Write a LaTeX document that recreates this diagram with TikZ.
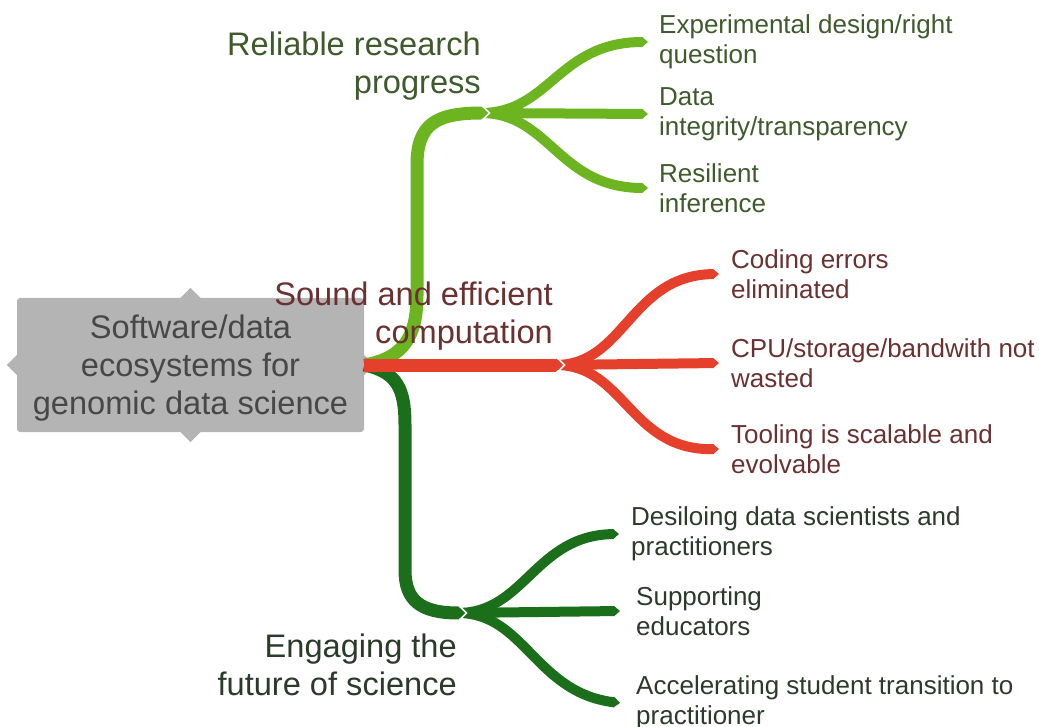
\documentclass[tikz,border=0pt]{standalone}
\usepackage{fontspec}
\setmainfont{Liberation Sans}
\usetikzlibrary{arrows.meta}
\definecolor{lgreen}{HTML}{6CB521}
\definecolor{rred}{HTML}{E5402C}
\definecolor{dgreen}{HTML}{1B6F1B}
\definecolor{boxgray}{HTML}{B4B4B4}
\definecolor{lgtext}{HTML}{3F5A2C}
\definecolor{rtext}{HTML}{6B3030}
\definecolor{dgtext}{HTML}{2C3A2C}

\begin{document}
\begin{tikzpicture}[x=1pt,y=-1pt,
	rootbox/.style={fill=boxgray,rounded corners=3pt,minimum width=347pt,minimum height=134pt,align=center,text=black!72,font=\fontsize{32.6}{38}\selectfont,inner sep=0pt},
	mainlabel/.style={align=right,inner sep=0pt,font=\fontsize{32.6}{38}\selectfont},
	sublabel/.style={align=left,anchor=west,inner sep=0pt,font=\fontsize{26}{30}\selectfont},
	trunk/.style={line width=13pt,-{Triangle[length=7pt,width=0pt 1]}},
	twig/.style={line width=10pt,-{Triangle[length=6pt,width=0pt 1]}},
	gapline/.style={white,line width=1.6pt}]
	\useasboundingbox (0,0) rectangle (1039,727);
	\node[rootbox] (root) at (190.5,365) {\rule{0pt}{30pt}Software/data\\ecosystems for\\genomic data science};
	\fill[boxgray] (root.north) ++(-10,0) -- ++(10,-10) -- ++(10,10) -- cycle;
	\fill[boxgray] (root.south) ++(-10,0) -- ++(10,10) -- ++(10,-10) -- cycle;
	\fill[boxgray] (root.west) ++(0,-10) -- ++(-10,10) -- ++(10,10) -- cycle;
	\fill[boxgray] (root.east) ++(0,-10) -- ++(10,10) -- ++(-10,10) -- cycle;

	\coordinate (rj) at (488,113);
	\coordinate (rs) at (481,113);
	\coordinate (cj) at (563,365);
	\coordinate (cs) at (556,365);
	\coordinate (ej) at (465,613);
	\coordinate (es) at (458,613);

	\node[sublabel,text=lgtext] (design) at (659,42) {Experimental design/right\\question};
	\node[sublabel,text=lgtext] (integrity) at (659,114) {Data\\integrity/transparency};
	\node[sublabel,text=lgtext] (inference) at (659,188) {Resilient\\inference};
	\node[sublabel,text=rtext] (errors) at (731,274) {Coding errors\\eliminated};
	\node[sublabel,text=rtext] (waste) at (731,363) {CPU/storage/bandwith not\\wasted};
	\node[sublabel,text=rtext] (tooling) at (731,449) {Tooling is scalable and\\evolvable};
	\node[sublabel,text=dgtext] (desilo) at (631,534) {Desiloing data scientists and\\practitioners};
	\node[sublabel,text=dgtext] (educators) at (636,611) {Supporting\\educators};
	\node[sublabel,text=dgtext] (transition) at (636,703) {Accelerating student transition to\\practitioner};

	\draw[trunk,lgreen] (root.east) .. controls (405,358) and (417,335) .. (417,295) -- (417,165) .. controls (417,125) and (435,113) .. (rj);
	\draw[twig,lgreen] (rs) .. controls (550,113) and (558,42) .. ([xshift=-11pt]design.west);
	\draw[twig,lgreen] (rs) -- ([xshift=-11pt]integrity.west);
	\draw[twig,lgreen] (rs) .. controls (550,113) and (558,188) .. ([xshift=-11pt]inference.west);
	\draw[gapline] ([shift={(-5.5,-7)}]rj) -- ([shift={(1.5,0)}]rj) -- ([shift={(-5.5,7)}]rj);

	\draw[trunk,dgreen] (root.east) .. controls (398,372) and (405,390) .. (405,425) -- (405,570) .. controls (405,600) and (420,613) .. (ej);
	\draw[twig,dgreen] (es) .. controls (525,613) and (535,535) .. ([xshift=-12pt]desilo.west);
	\draw[twig,dgreen] (es) -- ([xshift=-16pt]educators.west);
	\draw[twig,dgreen] (es) .. controls (525,613) and (535,693) .. ([xshift=-16pt]transition.west);
	\draw[gapline] ([shift={(-5.5,-7)}]ej) -- ([shift={(1.5,0)}]ej) -- ([shift={(-5.5,7)}]ej);

	\draw[trunk,rred] (root.east) -- (cj);
	\draw[twig,rred] (cs) .. controls (625,365) and (630,275) .. ([xshift=-12pt]errors.west);
	\draw[twig,rred] (cs) -- ([xshift=-12pt]waste.west);
	\draw[twig,rred] (cs) .. controls (625,365) and (630,451) .. ([xshift=-12pt]tooling.west);
	\draw[gapline] ([shift={(-5.5,-7)}]cj) -- ([shift={(1.5,0)}]cj) -- ([shift={(-5.5,7)}]cj);

	\node[mainlabel,anchor=east,text=lgtext] (reliable) at (481,66) {Reliable research\\progress};
	\node[mainlabel,anchor=east,text=rtext] (sound) at (553,316) {Sound and efficient\\computation};
	\node[mainlabel,anchor=east,text=dgtext] (engaging) at (457,665) {Engaging the\\future of science};
\end{tikzpicture}
\end{document}
